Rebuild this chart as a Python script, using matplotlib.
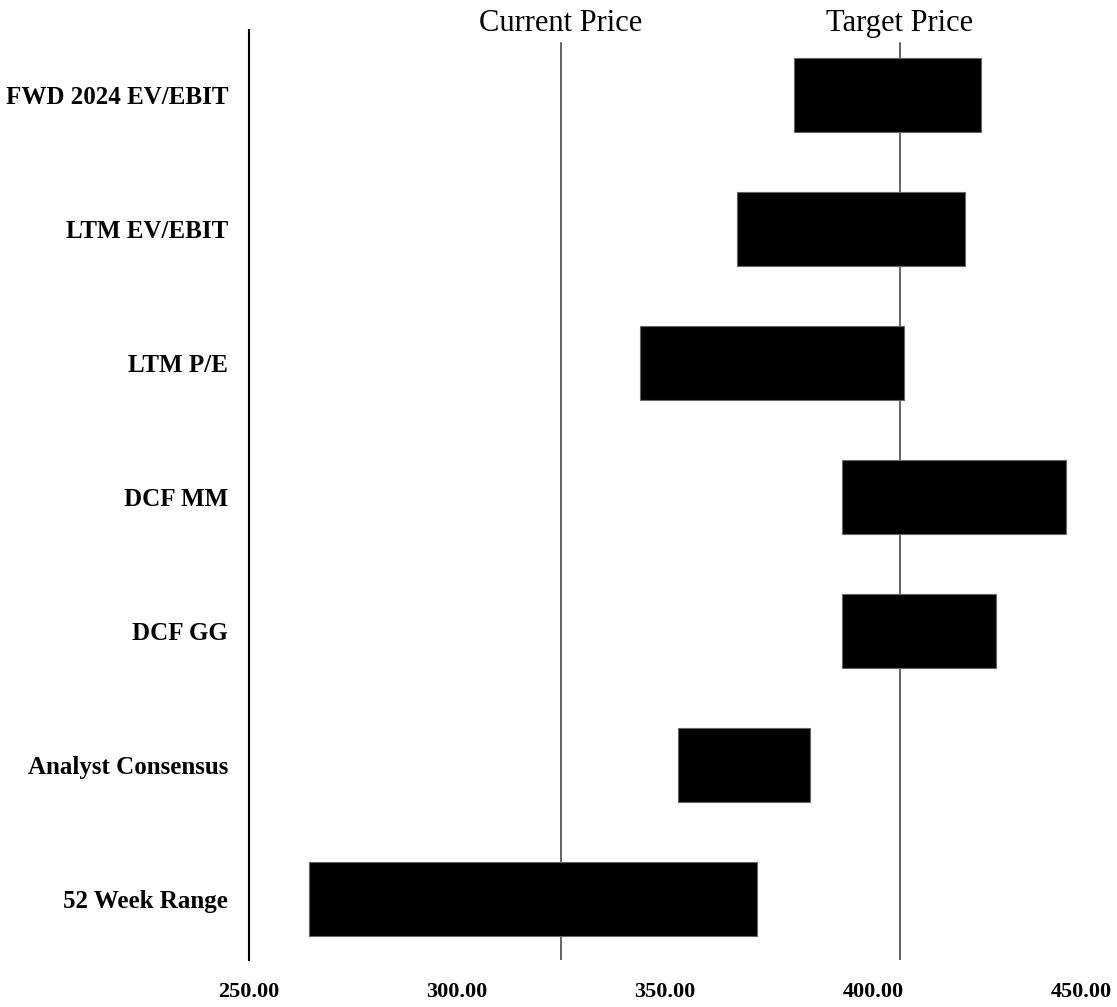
import matplotlib.pyplot as plt

# valuation ranges (low, high) per method, bottom to top
methods = ['52 Week Range', 'Analyst Consensus', 'DCF GG', 'DCF MM',
           'LTM P/E', 'LTM EV/EBIT', 'FWD 2024 EV/EBIT']
low = [264.4, 353.2, 392.6, 392.6, 343.9, 367.2, 381.1]
high = [372.2, 384.9, 429.6, 446.4, 407.5, 422.1, 426.0]

current_price = 325.0
target_price = 406.5

xticks = [250, 300, 350, 400, 450]

plt.rcParams['font.family'] = ['Liberation Serif', 'DejaVu Serif']

fig = plt.figure(figsize=(11.17, 10.07), dpi=100)
ax = fig.add_axes([249 / 1117, 47 / 1007, 832 / 1117, 930 / 1007])

pos = list(range(len(methods)))
widths = [h - l for l, h in zip(low, high)]

# reference lines sit behind the bars
for x, name in [(current_price, 'Current Price'), (target_price, 'Target Price')]:
    ax.axvline(x, ymin=0, ymax=0.986, color='#3a3a3a', lw=1.1, zorder=1)
    ax.text(x, 0.999, name, transform=ax.get_xaxis_transform(),
            ha='center', va='baseline', fontsize=22)

ax.barh(pos, widths, left=low, height=0.55, color='black',
        edgecolor='#666666', linewidth=0.8, zorder=2)

ax.set_xlim(250, 450)
ax.set_ylim(-0.455, 6.485)
ax.set_yticks(pos)
ax.set_yticklabels(methods, fontsize=18, fontweight='bold')
ax.set_xticks(xticks)
ax.set_xticklabels(['%.2f' % v for v in xticks], fontsize=16, fontweight='bold')
ax.tick_params(axis='y', length=0, pad=15)
ax.tick_params(axis='x', length=0, pad=16)

for side in ['top', 'right', 'bottom']:
    ax.spines[side].set_visible(False)
ax.spines['left'].set_linewidth(1.5)

plt.savefig('out.png', dpi=100)
